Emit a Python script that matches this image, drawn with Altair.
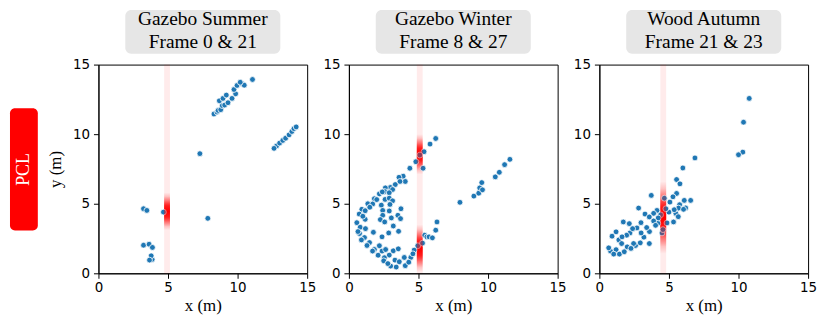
import altair as alt
import pandas as pd

# ---------------- data ----------------
p1_x = [8.30, 8.52, 8.60, 8.79, 8.90, 9.07, 8.69, 8.95, 9.19, 9.31, 9.60, 9.86, 9.74, 9.96,
        10.30, 10.48, 10.19, 11.07,
        12.80, 12.62, 13.02, 13.25, 13.45, 13.70, 13.90, 14.05, 14.21,
        7.29, 7.86, 4.67,
        3.24, 3.48,
        3.24, 3.64, 3.88, 3.86, 3.79, 3.67]
p1_y = [11.45, 11.59, 11.70, 11.76, 12.05, 12.09, 12.40, 12.57, 12.81, 12.26, 12.57, 12.90, 13.21, 13.50,
        13.65, 13.52, 13.73, 13.93,
        9.15, 8.98, 9.36, 9.55, 9.71, 9.95, 10.19, 10.40, 10.52,
        8.60, 3.95, 4.40,
        4.64, 4.52,
        2.02, 2.09, 1.86, 1.00, 1.26, 0.95]

p2_x = [6.24, 5.83, 5.40, 5.10, 4.81, 5.33, 4.38, 3.90, 3.60, 4.05, 3.67, 3.33, 2.98, 2.62,
        3.14, 2.57, 2.90, 2.19, 1.83, 2.60, 2.90, 3.14, 1.36, 1.71, 2.33, 2.95, 3.74, 0.93,
        1.17, 2.43, 0.74, 2.90, 2.43, 3.52, 3.71, 3.05, 2.26, 1.17, 0.57, 0.81, 3.19, 2.57,
        1.19, 3.57, 2.86, 0.76, 1.76, 1.12, 2.38, 1.48, 2.19, 1.83, 2.38, 2.64, 2.90, 3.19,
        3.55, 3.31, 3.00, 3.62, 4.05, 3.98, 4.45, 4.69, 4.95, 5.29, 5.45, 5.60, 5.76, 6.00,
        6.24, 6.33, 2.55,
        1.00, 1.50, 2.00, 2.40, 0.65, 0.90, 1.30, 1.70, 2.10, 2.50, 2.80, 3.40, 4.30, 4.60,
        7.98, 8.98, 9.33, 9.40, 9.55, 9.60, 10.52, 10.81, 11.19, 11.57]
p2_y = [9.69, 9.29, 8.74, 8.50, 8.02, 7.55, 7.55, 6.98, 6.90, 6.60, 6.60, 6.38, 6.17, 6.14,
        6.02, 5.88, 5.79, 5.71, 5.36, 5.31, 5.40, 5.21, 5.00, 4.98, 4.90, 4.95, 4.64, 4.60,
        4.50, 4.52, 4.26, 4.48, 4.17, 4.17, 3.93, 3.98, 3.86, 3.88, 3.64, 3.31, 3.40, 3.69,
        3.21, 3.02, 2.90, 2.86, 2.95, 2.57, 2.62, 2.21, 1.98, 1.71, 1.60, 1.71, 1.31, 1.62,
        1.76, 0.95, 0.52, 0.83, 0.55, 1.14, 1.14, 1.67, 1.98, 2.17, 2.74, 2.62, 2.62, 2.55,
        3.10, 3.69, 1.12,
        4.10, 4.75, 5.30, 5.85, 3.00, 2.40, 2.00, 1.60, 1.30, 0.90, 0.70, 0.45, 0.80, 1.40,
        5.10, 5.55, 5.76, 6.14, 6.52, 6.00, 6.93, 7.26, 7.81, 8.19]

p3_x = [0.80, 1.20, 2.00, 2.60, 3.20, 3.60, 4.20, 4.40, 5.00, 5.50, 6.20, 4.50, 3.00, 1.40, 2.20,
        10.77, 10.36, 10.31, 10.00, 6.87, 6.00, 5.55, 5.79, 5.55, 5.29, 4.67, 3.73, 6.56, 6.10,
        5.07, 5.77, 4.78, 5.69, 6.05, 5.38, 4.14, 2.82, 3.90, 3.28, 3.59, 4.23, 3.90, 5.67,
        5.33, 4.86, 1.72, 2.99, 2.15, 2.70, 2.39, 3.40, 4.04, 4.57, 1.96, 1.20, 0.91, 1.63,
        2.46, 2.94, 3.59, 1.60, 0.67, 1.03, 1.44, 1.79, 2.27]
p3_y = [1.60, 1.70, 1.90, 2.00, 2.60, 3.00, 3.60, 4.20, 4.40, 4.30, 4.70, 2.90, 2.90, 2.40, 2.90,
        12.57, 10.86, 8.71, 8.52, 8.29, 7.57, 6.74, 6.43, 5.74, 5.50, 5.40, 5.60, 5.24, 5.24,
        5.12, 4.93, 4.64, 4.69, 4.60, 4.57, 4.52, 4.69, 4.31, 4.26, 4.05, 3.98, 3.76, 4.07,
        3.69, 3.62, 3.69, 3.64, 3.57, 3.26, 3.21, 3.29, 3.45, 3.14, 2.74, 2.98, 2.67, 2.62,
        2.14, 2.19, 2.14, 2.14, 1.83, 1.38, 1.38, 1.55, 1.79]

titles_top = ["Gazebo Summer", "Gazebo Winter", "Wood Autumn"]
titles_bottom = ["Frame 0 & 21", "Frame 8 & 27", "Frame 21 & 23"]
side_label = "PCL"
x_title = "x (m)"
y_title = "y (m)"
ticks = [0, 5, 10, 15]
band_x = [4.93, 5.09, 4.59]
hot_lo = [[3.1], [7.1, 0.1], [1.4]]
hot_hi = [[5.8], [10.0, 3.5], [6.6]]

# ---------------- styling ----------------
W = H = 210
HALF = 0.21
DOM = [0, 15]
BLUE = "#1f77b4"


def grad(max_alpha):
    shape = [(0, 0), (0.1, 0.12), (0.22, 0.4), (0.35, 0.8), (0.5, 1.0),
             (0.65, 0.8), (0.78, 0.4), (0.9, 0.12), (1, 0)]
    return alt.Gradient(
        gradient="linear", x1=0, x2=0, y1=0, y2=1,
        stops=[alt.GradientStop(color=f"rgba(255,0,0,{a * max_alpha:.3f})", offset=o) for o, a in shape],
    )


def panel(i, xs, ys, show_y_title):
    sx = alt.Scale(domain=DOM, nice=False, zero=False)
    sy = alt.Scale(domain=DOM, nice=False, zero=False)
    ax_x = alt.Axis(values=ticks, title=x_title)
    ax_y = alt.Axis(values=ticks, title=y_title) if show_y_title else alt.Axis(values=ticks, title=None)

    pts = pd.DataFrame({"x": xs, "y": ys})
    band = pd.DataFrame({"x": [band_x[i] - HALF], "x2": [band_x[i] + HALF], "y": [DOM[0]], "y2": [DOM[1]]})
    hot = pd.DataFrame({"x": [band_x[i] - HALF] * len(hot_lo[i]), "x2": [band_x[i] + HALF] * len(hot_lo[i]),
                        "y": hot_lo[i], "y2": hot_hi[i]})

    enc_rect = dict(x=alt.X("x:Q", scale=sx, axis=ax_x), x2="x2:Q",
                    y=alt.Y("y:Q", scale=sy, axis=ax_y), y2="y2:Q")

    pale = alt.Chart(band).mark_rect(fill="rgba(255,0,0,0.08)").encode(**enc_rect)
    hot_under = alt.Chart(hot).mark_rect(fill=grad(1.0)).encode(**enc_rect)
    hot_over = alt.Chart(hot).mark_rect(fill=grad(0.5)).encode(**enc_rect)
    scatter = alt.Chart(pts).mark_circle(size=34, color=BLUE, opacity=1, stroke="white", strokeWidth=0.8).encode(
        x=alt.X("x:Q", scale=sx, axis=ax_x), y=alt.Y("y:Q", scale=sy, axis=ax_y))

    tdf = pd.DataFrame({"t1": [titles_top[i]], "t2": [titles_bottom[i]]})
    box = alt.Chart(tdf).mark_rect(fill="#e6e6e6", cornerRadius=6).encode(
        x=alt.value(27), x2=alt.value(183), y=alt.value(-55), y2=alt.value(-11))
    t1 = alt.Chart(tdf).mark_text(font="Liberation Serif", fontSize=19.5, color="black",
                                  align="center", baseline="alphabetic").encode(
        x=alt.value(105), y=alt.value(-39.5), text="t1:N")
    t2 = alt.Chart(tdf).mark_text(font="Liberation Serif", fontSize=19.5, color="black",
                                  align="center", baseline="alphabetic").encode(
        x=alt.value(105), y=alt.value(-17), text="t2:N")

    layers = [pale, hot_under, scatter, hot_over, box, t1, t2]
    if show_y_title:
        sdf = pd.DataFrame({"s": [side_label]})
        sbox = alt.Chart(sdf).mark_rect(fill="#ff0000", cornerRadius=5).encode(
            x=alt.value(-89), x2=alt.value(-61), y=alt.value(44), y2=alt.value(167))
        stext = alt.Chart(sdf).mark_text(font="Liberation Serif", fontSize=18, color="white", angle=270,
                                         align="center", baseline="middle").encode(
            x=alt.value(-75), y=alt.value(105.5), text="s:N")
        layers += [sbox, stext]
    return alt.layer(*layers).properties(width=W, height=H)


chart = alt.hconcat(
    panel(0, p1_x, p1_y, True),
    panel(1, p2_x, p2_y, False),
    panel(2, p3_x, p3_y, False),
    spacing=42, bounds="flush",
).properties(
    padding={"left": 1, "top": 0, "right": 5, "bottom": 0}
).configure_view(
    stroke="black", strokeWidth=1
).configure_axis(
    domainColor="black", domainWidth=1, tickColor="black", tickSize=5, tickWidth=1,
    labelFont="DejaVu Sans", labelFontSize=13.5, labelColor="black",
    titleFont="Liberation Serif", titleFontSize=17, titleFontWeight="normal", titleColor="black",
    grid=False, labelFlush=False, labelOverlap=False,
).configure_axisX(
    labelPadding=2, titlePadding=4
).configure_axisY(
    labelPadding=4, titlePadding=8
)

chart.save("out.html", embed_options={"renderer": "svg", "actions": False})
